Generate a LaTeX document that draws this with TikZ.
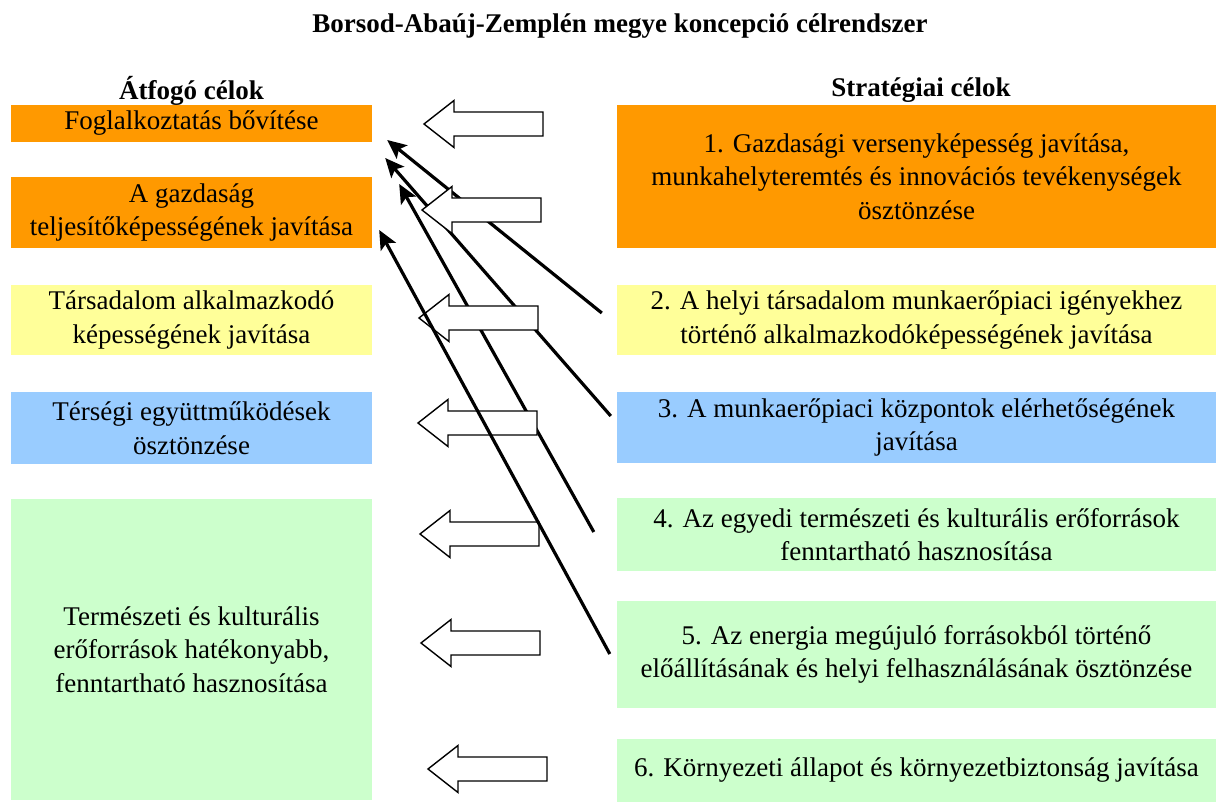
\documentclass[tikz,border=0pt]{standalone}
\usepackage{fontspec}
\setmainfont{Liberation Serif}
\usepackage{xcolor}
\usetikzlibrary{arrows.meta, positioning}
\definecolor{celorange}{RGB}{255, 153, 0}
\definecolor{celyellow}{RGB}{255, 255, 153}
\definecolor{celblue}{RGB}{153, 204, 255}
\definecolor{celgreen}{RGB}{204, 255, 204}

\begin{document}
\begin{tikzpicture}[
    x=1pt, y=-1pt,
    goal/.style={fill=#1, inner sep=0pt, align=center, font=\fontsize{27}{33.5}\selectfont},
    leftgoal/.style={goal=#1, minimum width=361pt},
    rightgoal/.style={goal=#1, minimum width=599pt},
    head/.style={font=\fontsize{27}{33.5}\selectfont\bfseries},
    fatarr/.style={draw=black, fill=white, line width=1.4pt, line join=miter},
    goallink/.style={-{Stealth[length=19pt, width=17pt, inset=4pt]}, line width=3.2pt, draw=black}
]
\useasboundingbox (0,0) rectangle (1216,802);

% Headings
\node[head] (title) at (620,26) {Borsod-Abaúj-Zemplén megye koncepció célrendszer};
\node[head] (hleft) at (191.5,91) {Átfogó célok};
\node[head] (hright) at (921,90) {Stratégiai célok};

% Left column: overall goals
\node[leftgoal=celorange, minimum height=37pt] (l1) at (191.5,123.5) {Foglalkoztatás bővítése};
\node[leftgoal=celorange, minimum height=71pt] (l2) at (191.5,212.5) {A gazdaság\\teljesítőképességének javítása};
\node[leftgoal=celyellow, minimum height=70pt] (l3) at (191.5,320) {Társadalom alkalmazkodó\\képességének javítása};
\node[leftgoal=celblue, minimum height=72pt] (l4) at (191.5,428) {Térségi együttműködések\\ösztönzése};
\node[leftgoal=celgreen, minimum height=301pt] (l5) at (191.5,649.5) {Természeti és kulturális\\erőforrások hatékonyabb,\\fenntartható hasznosítása};

% Right column: strategic goals
\node[rightgoal=celorange, minimum height=143pt] (r1) at (916.5,176.5) {1. Gazdasági versenyképesség javítása,\\munkahelyteremtés és innovációs tevékenységek\\ösztönzése};
\node[rightgoal=celyellow, minimum height=70pt] (r2) at (916.5,320) {2. A helyi társadalom munkaerőpiaci igényekhez\\történő alkalmazkodóképességének javítása};
\node[rightgoal=celblue, minimum height=71pt] (r3) at (916.5,427.5) {3. A munkaerőpiaci központok elérhetőségének\\javítása};
\node[rightgoal=celgreen, minimum height=73pt] (r4) at (916.5,534.5) {4. Az egyedi természeti és kulturális erőforrások\\fenntartható hasznosítása};
\node[rightgoal=celgreen, minimum height=107pt] (r5) at (916.5,654.5) {5. Az energia megújuló forrásokból történő\\előállításának és helyi felhasználásának ösztönzése};
\node[rightgoal=celgreen, minimum height=63pt] (r6) at (916.5,770.5) {6. Környezeti állapot és környezetbiztonság javítása};

% Links behind the block arrows
\draw[goallink] ([shift={(-15,-7)}]r2.west) -- ([shift={(15,16.5)}]l1.east);
\draw[goallink] ([shift={(-6,-11.5)}]r3.west) -- ([shift={(13,34.5)}]l1.east);
\draw[goallink] ([shift={(-23,-2.5)}]r4.west) -- ([shift={(27,-28.5)}]l2.east);

% Block arrows
\foreach \tx/\ty in {424/124, 422/210, 419/318, 418/423, 420/534, 421/643, 428/769}
  \draw[fatarr] (\tx,\ty) -- ++(30,-23.5) -- ++(0,11.5) -- ++(89,0) -- ++(0,24) -- ++(-89,0) -- ++(0,11.5) -- cycle;

% Link on top
\draw[goallink] ([shift={(-7,-0.5)}]r5.west) -- ([shift={(7,17.5)}]l2.east);

\end{tikzpicture}
\end{document}
